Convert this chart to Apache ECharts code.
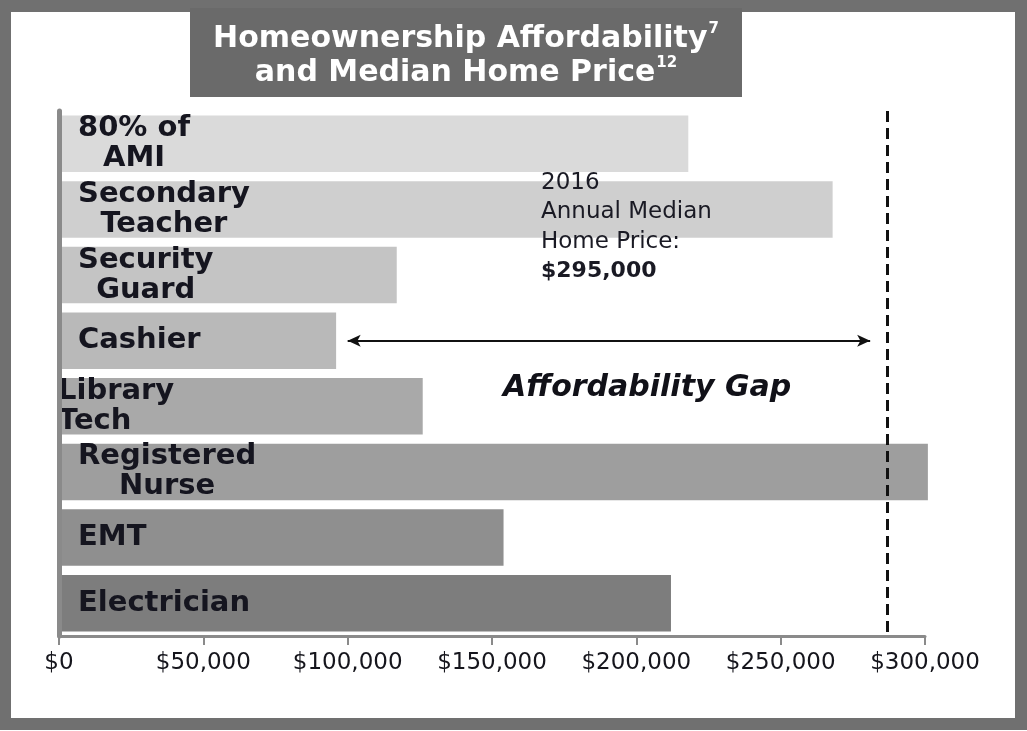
<!DOCTYPE html>
<html>
<head>
<meta charset="utf-8">
<script src="https://cdn.jsdelivr.net/npm/echarts@6/dist/echarts.min.js"></script>
<style>
  html, body { margin: 0; padding: 0; background: #ffffff; }
  #chart { width: 1027px; height: 731px; }
</style>
</head>
<body>
<div id="chart"></div>
<script>
// ---- data ----
const categories = ['80% of\nAMI', 'Secondary\nTeacher', 'Security\nGuard', 'Cashier', 'Library\nTech', 'Registered\nNurse', 'EMT', 'Electrician'];
const incomeValues = [218000, 268000, 117000, 96000, 126000, 301000, 154000, 212000];
const barColors = ['#dadada', '#cfcfcf', '#c4c4c4', '#b9b9b9', '#a9a9a9', '#9e9e9e', '#8f8f8f', '#7d7d7d'];
const xTicks = [0, 50000, 100000, 150000, 200000, 250000, 300000];
const medianLineValue = 287000;
const gapArrow = [100000, 281000];
const gapRowIndex = 3;
const titleLines = ['Homeownership Affordability', 'and Median Home Price'];
const titleNotes = ['7', '12'];
const medianNote = ['2016', 'Annual Median', 'Home Price:', '$295,000'];
const gapLabel = 'Affordability Gap';

const chart = echarts.init(document.getElementById('chart'), null, { renderer: 'canvas' });

const barData = incomeValues.map((v, i) => {
  const item = { value: v, itemStyle: { color: barColors[i] } };
  if (categories[i] === 'Library\nTech') {
    item.label = { distance: -1, rich: { c: { align: 'left' } } };
  }
  return item;
});

const option = {
  animation: false,
  backgroundColor: '#ffffff',
  grid: { left: 59, right: 102, top: 111, bottom: 95, containLabel: false },
  xAxis: {
    type: 'value',
    min: xTicks[0],
    max: xTicks[xTicks.length - 1],
    interval: xTicks[1] - xTicks[0],
    axisLine: { show: true, lineStyle: { color: '#8a8a8a', width: 3 } },
    axisTick: { show: true, length: 9, lineStyle: { color: '#8a8a8a', width: 2 } },
    splitLine: { show: false },
    axisLabel: {
      margin: 16,
      color: '#15151c',
      fontFamily: 'DejaVu Sans',
      fontSize: 23,
      formatter: v => '$' + v.toLocaleString('en-US')
    }
  },
  yAxis: {
    type: 'category',
    inverse: true,
    z: 5,
    data: categories,
    axisLine: { show: true, onZero: false, lineStyle: { color: '#8a8a8a', width: 5 } },
    axisTick: { show: false },
    axisLabel: { show: false },
    splitLine: { show: false }
  },
  series: [{
    type: 'bar',
    data: barData,
    clip: false,
    barCategoryGap: '14%',
    label: {
      show: true,
      position: 'insideLeft',
      distance: 19,
      formatter: p => p.name.split('\n').map(s => '{c|' + s + '}').join('\n'),
      rich: {
        c: {
          align: 'center',
          fontFamily: 'DejaVu Sans',
          fontWeight: 'bold',
          fontSize: 29,
          lineHeight: 30,
          color: '#15151f'
        }
      }
    },
    markLine: {
      silent: true,
      animation: false,
      symbol: ['none', 'none'],
      label: { show: false },
      data: [
        { xAxis: medianLineValue, lineStyle: { color: '#111111', width: 3, type: [11, 6] } },
        [
          { coord: [gapArrow[0], gapRowIndex], symbol: 'arrow', symbolSize: [9, 13], lineStyle: { color: '#111111', width: 2, type: 'solid' } },
          { coord: [gapArrow[1], gapRowIndex], symbol: 'arrow', symbolSize: [9, 13] }
        ]
      ]
    }
  }],
  graphic: [
    {
      type: 'rect', z: 100,
      shape: { x: 5, y: 6, width: 1016, height: 718 },
      style: { fill: null, stroke: '#707070', lineWidth: 12 }
    },
    {
      type: 'rect', z: 100,
      shape: { x: 190, y: 8, width: 552, height: 89 },
      style: { fill: '#6a6a6a' }
    },
    {
      type: 'text', z: 101,
      x: 466, y: 22,
      style: {
        text: '{t|' + titleLines[0] + '}{s|' + titleNotes[0] + '}\n{t|' + titleLines[1] + '}{s|' + titleNotes[1] + '}',
        align: 'center',
        verticalAlign: 'top',
        fill: '#ffffff',
        rich: {
          t: { fontFamily: 'DejaVu Sans', fontWeight: 'bold', fontSize: 30, lineHeight: 34, fill: '#ffffff' },
          s: { fontFamily: 'DejaVu Sans', fontWeight: 'bold', fontSize: 15, lineHeight: 34, verticalAlign: 'top', fill: '#ffffff', padding: [0, 0, 18, 1] }
        }
      }
    },
    {
      type: 'text', z: 101,
      x: 541, y: 168,
      style: {
        text: medianNote.slice(0, 3).map(s => '{n|' + s + '}').join('\n') + '\n{b|' + medianNote[3] + '}',
        align: 'left',
        verticalAlign: 'top',
        rich: {
          n: { fontFamily: 'DejaVu Sans', fontSize: 23, lineHeight: 29.5, fill: '#1a1a24' },
          b: { fontFamily: 'DejaVu Sans', fontWeight: 'bold', fontSize: 22, lineHeight: 29.5, fill: '#1a1a24' }
        }
      }
    },
    {
      type: 'text', z: 101,
      x: 503, y: 388,
      style: {
        text: gapLabel,
        fontFamily: 'DejaVu Sans',
        fontWeight: 'bold',
        fontStyle: 'italic',
        fontSize: 30,
        fill: '#111118',
        align: 'left',
        verticalAlign: 'middle'
      }
    }
  ]
};

chart.setOption(option);
</script>
</body>
</html>
